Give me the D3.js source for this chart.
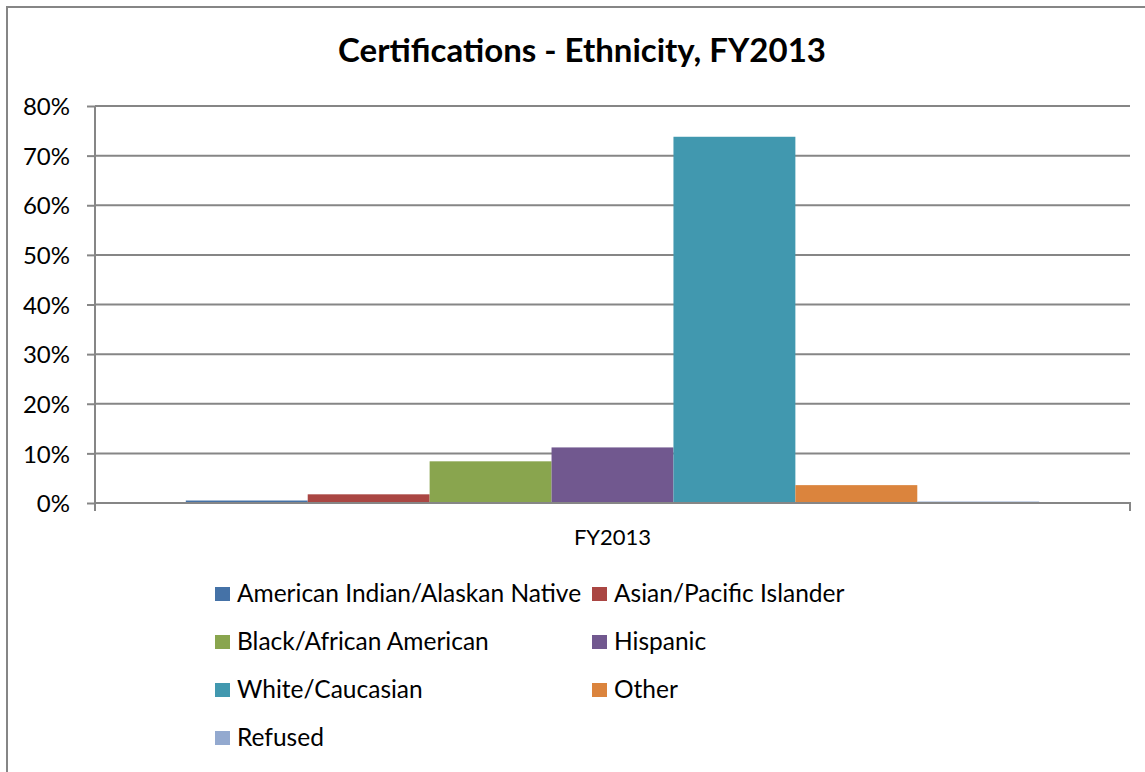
<!DOCTYPE html>
<html>
<head>
<style>
body { margin: 0; background: #fff; }
text { font-family: Lato, "Open Sans", sans-serif; fill: #000; }
.grid line { stroke: #868686; stroke-width: 2; }
.axis path, .axis line { stroke: #868686; stroke-width: 2; }
</style>
<title>Certifications - Ethnicity, FY2013</title>
<script src="https://cdn.jsdelivr.net/npm/d3@7"></script>
</head>
<body>
<svg width="1145" height="772"></svg>
<script>

var categories = ["FY2013"];
var series = ["American Indian/Alaskan Native", "Asian/Pacific Islander", "Black/African American",
              "Hispanic", "White/Caucasian", "Other", "Refused"];
var values = [0.5, 1.75, 8.4, 11.2, 73.8, 3.6, 0.3];
var colors = ["#4572A7", "#AA4643", "#89A54E", "#71588F", "#4198AF", "#DB843D", "#93A9CF"];
var yTicks = [0, 10, 20, 30, 40, 50, 60, 70, 80];

var svg = d3.select("svg");
var plot = {left: 95, right: 1130, top: 106, bottom: 503};

// chart frame
svg.append("rect")
    .attr("x", 7).attr("y", 7)
    .attr("width", 1150).attr("height", 800)
    .attr("fill", "none")
    .attr("stroke", "#868686")
    .attr("stroke-width", 2);

svg.append("text")
    .attr("x", 582).attr("y", 62)
    .attr("text-anchor", "middle")
    .style("font-size", "33px")
    .style("font-weight", "bold")
    .text("Certifications - Ethnicity, FY2013");

var x0 = d3.scaleBand().domain(categories)
    .range([plot.left, plot.right]).paddingInner(0).paddingOuter(0.1064);
var x1 = d3.scaleBand().domain(series).range([0, x0.bandwidth()]);
var y = d3.scaleLinear().domain([0, 80]).range([plot.bottom, plot.top]);

// gridlines
svg.append("g").attr("class", "grid")
  .selectAll("line")
  .data(yTicks.filter(function(d) { return d > 0; }))
  .enter().append("line")
    .attr("x1", plot.left).attr("x2", plot.right)
    .attr("y1", function(d) { return y(d); })
    .attr("y2", function(d) { return y(d); });

// y axis
var yAxis = svg.append("g")
    .attr("class", "axis")
    .attr("transform", "translate(" + plot.left + ",0)")
    .call(d3.axisLeft(y).tickValues(yTicks).tickSize(8).tickSizeOuter(0)
      .tickFormat(function(d) { return d + "%"; }));
yAxis.selectAll("text")
    .attr("x", -25)
    .attr("dy", "0.36em")
    .style("font-size", "24px")
    .style("font-family", "Lato, sans-serif");
yAxis.select(".domain").attr("d", "M0," + plot.top + "V" + (plot.bottom + 8));

// bars
var grp = svg.append("g").selectAll("g")
    .data(categories)
    .enter().append("g")
    .attr("transform", function(d) { return "translate(" + x0(d) + ",0)"; });

grp.selectAll("rect")
    .data(series.map(function(s, i) { return {name: s, value: values[i], color: colors[i]}; }))
    .enter().append("rect")
      .attr("x", function(d) { return x1(d.name); })
      .attr("y", function(d) { return y(d.value); })
      .attr("width", x1.bandwidth())
      .attr("height", function(d) { return y(0) - y(d.value); })
      .attr("fill", function(d) { return d.color; });

// x axis
var xAxis = svg.append("g")
    .attr("class", "axis")
    .attr("transform", "translate(0," + plot.bottom + ")")
    .call(d3.axisBottom(x0).tickSize(0).tickSizeOuter(8));
xAxis.select(".domain").attr("d", "M" + plot.left + ",0H" + plot.right + "V8");
xAxis.selectAll("text")
    .attr("y", 42)
    .attr("dy", 0)
    .style("font-size", "22px")
    .style("font-family", "Lato, sans-serif");

// legend
var legend = svg.append("g");
series.forEach(function(s, i) {
  var col = i % 2, row = Math.floor(i / 2);
  var lx = col === 0 ? 215 : 592;
  var ly = 594 + row * 48;
  legend.append("rect")
    .attr("x", lx).attr("y", ly - 7)
    .attr("width", 15).attr("height", 14)
    .attr("fill", colors[i]);
  legend.append("text")
    .attr("x", lx + 22).attr("y", ly)
    .attr("dy", "0.33em")
    .style("font-size", "24.5px")
    .text(s);
});

</script>
</body>
</html>
